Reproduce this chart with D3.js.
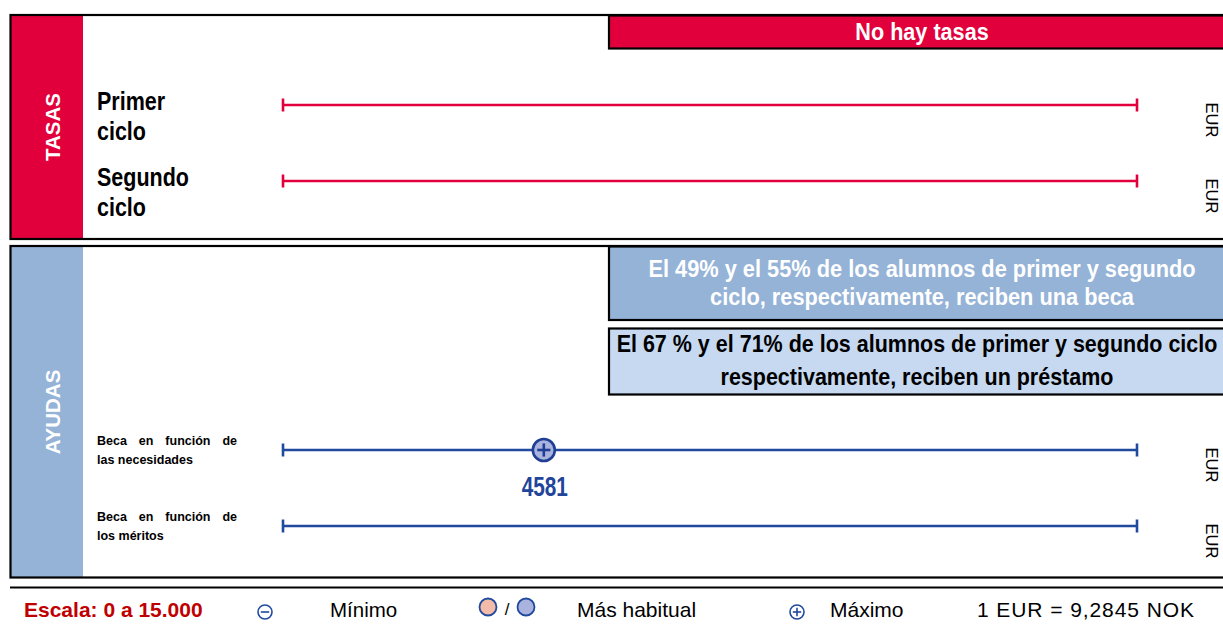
<!DOCTYPE html>
<html>
<head>
<meta charset="utf-8">
<script src="https://cdn.jsdelivr.net/npm/d3@7"></script>
<style>
  html, body { margin: 0; padding: 0; background: #fff; }
  svg { display: block; }
</style>
</head>
<body>
<svg id="chart" width="1223" height="625"></svg>
<script>
// ---------- data ----------
const scaleDomain = [0, 15000];
const unitLabel = "EUR";

const tasasRows = ["Primer ciclo", "Segundo ciclo"];
const tasasLabelLines = [["Primer", "ciclo"], ["Segundo", "ciclo"]];
const tasasNote = ["No hay tasas"];

const ayudasRows = ["Beca en función de las necesidades", "Beca en función de los méritos"];
const ayudasLabelLines = [["Beca en función de", "las necesidades"], ["Beca en función de", "los méritos"]];
const ayudasMinimo = [null, null];
const ayudasHabitual = [null, null];
const ayudasMaximo = [4581, null];

const becaNote = ["El 49% y el 55% de los alumnos de primer y segundo", "ciclo, respectivamente, reciben una beca"];
const prestamoNote = ["El 67 % y el 71% de los alumnos de primer y segundo ciclo", "respectivamente, reciben un préstamo"];

const legendScale = "Escala: 0 a 15.000";
const legendLabels = ["Mínimo", "Más habitual", "Máximo"];
const legendRate = "1 EUR = 9,2845 NOK";

// ---------- style ----------
const RED = "#e2003c";
const SIDE_BLUE = "#95b3d7";
const LIGHT_BLUE = "#c6d9f1";
const LINE_BLUE = "#1f4a9e";
const MARK_FILL = "#aab2de";
const MARK_STROKE = "#1f3f94";
const ARIAL = "'Liberation Sans', Arial, sans-serif";

const svg = d3.select("#chart");

const x = d3.scaleLinear().domain(scaleDomain).range([283, 1137]);
const yTasas = d3.scalePoint().domain(tasasRows).range([105, 181]);
const yAyudas = d3.scalePoint().domain(ayudasRows).range([450, 526]);

// condensed bold text (horizontal squeeze of a regular bold face)
function narrowText(parent, tx, ty, str, size, squeeze, color, anchor) {
  return parent.append("text")
    .attr("transform", `translate(${tx},${ty}) scale(${squeeze},1)`)
    .attr("text-anchor", anchor || "start")
    .attr("font-family", ARIAL).attr("font-weight", "bold").attr("font-size", size)
    .attr("fill", color).text(str);
}

// ---------- panels ----------
function panel(y0, y1, sideColor, title, titleY) {
  svg.append("rect").attr("x", 11).attr("y", y0).attr("width", 72).attr("height", y1 - y0)
    .attr("fill", sideColor);
  svg.append("rect").attr("x", 10.5).attr("y", y0 - 0.5).attr("width", 1230).attr("height", y1 - y0 + 1)
    .attr("fill", "none").attr("stroke", "#000").attr("stroke-width", 2.2);
  svg.append("text")
    .attr("transform", `translate(60,${titleY}) rotate(-90)`)
    .attr("text-anchor", "middle")
    .attr("font-family", ARIAL).attr("font-weight", "bold").attr("font-size", 20.5)
    .attr("fill", "#fff").text(title);
}
panel(15.5, 238.5, RED, "TASAS", 127);
panel(246.5, 577, SIDE_BLUE, "AYUDAS", 412);

// separator under panels
svg.append("line").attr("x1", 10).attr("x2", 1223).attr("y1", 587.5).attr("y2", 587.5)
  .attr("stroke", "#000").attr("stroke-width", 2.2);

// ---------- note boxes ----------
function noteBox(y0, y1, fill, lines, color, baselines, squeeze, cx) {
  svg.append("rect").attr("x", 609).attr("y", y0).attr("width", 640).attr("height", y1 - y0)
    .attr("fill", fill).attr("stroke", "#000").attr("stroke-width", 2.2);
  const g = svg.append("g");
  lines.forEach((d, i) => narrowText(g, cx, baselines[i], d, 23, squeeze, color, "middle"));
}
noteBox(15.5, 48.5, RED, tasasNote, "#fff", [40], 0.94, 922);
noteBox(246.5, 320, SIDE_BLUE, becaNote, "#fff", [277, 305], 0.948, 922);
noteBox(328.5, 394.5, LIGHT_BLUE, prestamoNote, "#000", [352, 385], 0.935, 917);

// ---------- range lines ----------
function rangeLine(y, color) {
  const g = svg.append("g").attr("stroke", color).attr("stroke-width", 2.6);
  g.append("line").attr("x1", x(scaleDomain[0])).attr("x2", x(scaleDomain[1])).attr("y1", y).attr("y2", y);
  g.append("line").attr("x1", x(scaleDomain[0])).attr("x2", x(scaleDomain[0])).attr("y1", y - 6.5).attr("y2", y + 6.5);
  g.append("line").attr("x1", x(scaleDomain[1])).attr("x2", x(scaleDomain[1])).attr("y1", y - 6.5).attr("y2", y + 6.5);
}
function unit(y) {
  svg.append("text").attr("transform", `translate(1206,${y}) rotate(90)`)
    .attr("text-anchor", "middle")
    .attr("font-family", ARIAL).attr("font-size", 16.5).attr("fill", "#000").text(unitLabel);
}

tasasRows.forEach((r, i) => {
  rangeLine(yTasas(r), RED);
  unit(yTasas(r) + 15);
  const g = svg.append("g");
  tasasLabelLines[i].forEach((d, j) => narrowText(g, 97, yTasas(r) + 5 + j * 30, d, 25, 0.86, "#000"));
});

// justified small labels
function justified(xPos, y, width, text, justify) {
  const g = svg.append("g").attr("font-family", ARIAL).attr("font-weight", "bold")
    .attr("font-size", 12.5).attr("fill", "#000");
  if (!justify) { g.append("text").attr("x", xPos).attr("y", y).text(text); return; }
  const words = text.split(" ");
  const nodes = words.map(w => g.append("text").attr("x", xPos).attr("y", y).text(w));
  const widths = nodes.map(n => n.node().getComputedTextLength());
  const gap = (width - d3.sum(widths)) / (words.length - 1);
  let cx = xPos;
  nodes.forEach((n, k) => { n.attr("x", cx); cx += widths[k] + gap; });
}

ayudasRows.forEach((r, i) => {
  const y = yAyudas(r);
  rangeLine(y, LINE_BLUE);
  unit(y + 15);
  justified(97, y - 5, 140, ayudasLabelLines[i][0], true);
  justified(97, y + 14, 140, ayudasLabelLines[i][1], false);
});

// markers
function plusMarker(cx, cy, r, fill, stroke, sw) {
  const g = svg.append("g");
  g.append("circle").attr("cx", cx).attr("cy", cy).attr("r", r)
    .attr("fill", fill).attr("stroke", stroke).attr("stroke-width", sw);
  g.append("line").attr("x1", cx - r * 0.6).attr("x2", cx + r * 0.6).attr("y1", cy).attr("y2", cy)
    .attr("stroke", stroke).attr("stroke-width", sw);
  g.append("line").attr("x1", cx).attr("x2", cx).attr("y1", cy - r * 0.6).attr("y2", cy + r * 0.6)
    .attr("stroke", stroke).attr("stroke-width", sw);
}
function minusMarker(cx, cy, r, fill, stroke, sw) {
  const g = svg.append("g");
  g.append("circle").attr("cx", cx).attr("cy", cy).attr("r", r)
    .attr("fill", fill).attr("stroke", stroke).attr("stroke-width", sw);
  g.append("line").attr("x1", cx - r * 0.6).attr("x2", cx + r * 0.6).attr("y1", cy).attr("y2", cy)
    .attr("stroke", stroke).attr("stroke-width", sw);
}

ayudasRows.forEach((r, i) => {
  const v = ayudasMaximo[i];
  if (v == null) return;
  const cx = x(v), cy = yAyudas(r);
  plusMarker(cx, cy, 11, MARK_FILL, MARK_STROKE, 2.6);
  narrowText(svg, cx + 1, cy + 46, d3.format("d")(v), 27, 0.77, "#22449a", "middle");
});

// ---------- legend ----------
const LY = 617;
svg.append("text").attr("x", 24).attr("y", LY)
  .attr("font-family", ARIAL).attr("font-weight", "bold").attr("font-size", 21)
  .attr("fill", "#c00000").text(legendScale);

minusMarker(265, 612, 7, "none", LINE_BLUE, 1.6);
svg.append("text").attr("x", 330).attr("y", LY).attr("font-family", ARIAL).attr("font-size", 20.5).text(legendLabels[0]);

svg.append("circle").attr("cx", 488).attr("cy", 607).attr("r", 8.5).attr("fill", "#f4bba8").attr("stroke", LINE_BLUE).attr("stroke-width", 1.8);
svg.append("text").attr("x", 507).attr("y", 615).attr("text-anchor", "middle").attr("font-family", ARIAL).attr("font-size", 17).text("/");
svg.append("circle").attr("cx", 526).attr("cy", 607).attr("r", 8.5).attr("fill", MARK_FILL).attr("stroke", LINE_BLUE).attr("stroke-width", 1.8);
svg.append("text").attr("x", 577).attr("y", LY).attr("font-family", ARIAL).attr("font-size", 21).text(legendLabels[1]);

plusMarker(797, 612, 7, "none", LINE_BLUE, 1.6);
svg.append("text").attr("x", 830).attr("y", LY).attr("font-family", ARIAL).attr("font-size", 21).text(legendLabels[2]);

svg.append("text").attr("x", 977).attr("y", LY).attr("font-family", ARIAL).attr("font-size", 21)
  .attr("textLength", 217).attr("lengthAdjust", "spacing").text(legendRate);
</script>
</body>
</html>
